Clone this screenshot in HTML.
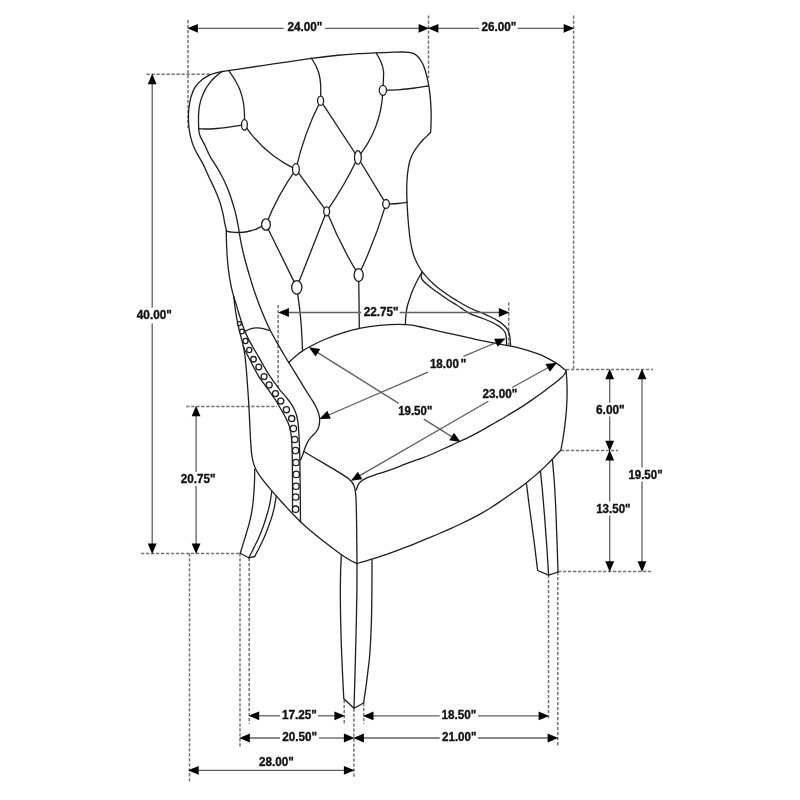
<!DOCTYPE html><html><head><meta charset="utf-8"><style>html,body{margin:0;padding:0;background:#fff;}svg{display:block;}text{font-family:"Liberation Sans",sans-serif;font-weight:bold;font-size:12.2px;fill:#111;stroke:#111;stroke-width:0.35px;}</style></head><body>
<svg width="800" height="800" viewBox="0 0 800 800" style="will-change:transform">
<rect width="800" height="800" fill="#fff"/>
<g stroke="#747474" stroke-width="1.5" stroke-dasharray="3.3 1.7" fill="none">
<path d="M188 20L188 128"/>
<path d="M428.5 15.5L428.5 78"/>
<path d="M573.6 15.5L573.6 369"/>
<path d="M146.5 74.2L212 74.2"/>
<path d="M141 553.4L240.3 553.4"/>
<path d="M186.25 406.4L277 406.4"/>
<path d="M278.1 305L278.1 388"/>
<path d="M508.7 302.5L508.7 345"/>
<path d="M566 369.4L653 369.4"/>
<path d="M561 450.6L618 450.6"/>
<path d="M558 571.4L651 571.4"/>
<path d="M189.5 553.2L189.5 782.5"/>
<path d="M240 553.2L240 747.5"/>
<path d="M249.2 558L249.2 723.8"/>
<path d="M344.2 700L344.2 723.8"/>
<path d="M353.9 708.5L353.9 777.5"/>
<path d="M363.7 703L363.7 723.8"/>
<path d="M548.5 575L548.5 718.5"/>
<path d="M557.8 572L557.8 747"/>
</g>
<g stroke="#1e1e1e" stroke-width="1.3" fill="none" stroke-linejoin="round" stroke-linecap="round">
<path d="M226.5 230.5 C226.21 229.3 225.31 226.02 224.74 223.31 C224.18 220.6 223.89 217.67 223.11 214.23 C222.34 210.79 221.46 206.82 220.07 202.66 C218.68 198.5 216.6 193.53 214.76 189.28 C212.91 185.04 210.61 180.7 209 177.19 C207.38 173.67 206.29 170.86 205.06 168.22 C203.83 165.57 202.88 163.64 201.62 161.33 C200.36 159.02 198.86 156.84 197.51 154.33 C196.16 151.82 194.64 149.1 193.5 146.26 C192.37 143.43 191.44 140.41 190.7 137.34 C189.95 134.28 189.4 131.09 189.02 127.86 C188.64 124.63 188.42 121.33 188.42 117.94 C188.41 114.56 188.53 111.1 188.97 107.54 C189.41 103.98 190.02 100.01 191.07 96.58 C192.12 93.15 193.44 89.77 195.26 86.94 C197.08 84.12 199.61 81.61 201.98 79.63 C204.34 77.65 207.11 76.2 209.45 75.05 C211.8 73.91 213.76 73.39 216.07 72.76 C218.39 72.14 219.57 71.93 223.35 71.3 C227.13 70.68 230.39 70.25 238.75 69.02 C247.1 67.79 261.63 65.65 273.47 63.92 C285.31 62.2 299.05 60.12 309.8 58.68 C320.56 57.23 329.99 56.1 338.01 55.27 C346.03 54.44 351.72 54.12 357.92 53.72 C364.12 53.32 369.75 53.13 375.21 52.89 C380.68 52.65 386.2 52.43 390.7 52.28 C395.2 52.13 399.16 51.98 402.22 51.98 C405.27 51.98 407.14 52.03 409.01 52.27 C410.89 52.51 412.15 52.86 413.46 53.43 C414.78 53.99 415.83 54.73 416.9 55.66 C417.98 56.59 418.95 57.71 419.89 59.02 C420.83 60.33 421.68 61.65 422.56 63.52 C423.43 65.4 424.27 67.33 425.16 70.27 C426.06 73.21 427.1 76.89 427.93 81.16 C428.76 85.43 429.62 90.75 430.15 95.89 C430.68 101.04 430.97 107.3 431.11 112.05 C431.25 116.8 431.08 120.98 430.99 124.39 C430.91 127.8 430.67 131.15 430.6 132.5 C430.16 132.93 429.11 133.93 427.93 135.07 C426.75 136.2 425.14 137.61 423.53 139.32 C421.92 141.03 419.93 143.18 418.27 145.34 C416.61 147.5 414.89 149.96 413.58 152.28 C412.26 154.6 411.25 156.67 410.38 159.26 C409.5 161.85 408.91 164.28 408.34 167.82 C407.78 171.36 407.23 175.77 406.98 180.53 C406.72 185.28 406.68 190.52 406.82 196.37 C406.95 202.21 407.33 209.19 407.78 215.58 C408.23 221.98 408.9 229.45 409.52 234.71 C410.15 239.97 410.82 243.7 411.52 247.15 C412.23 250.61 412.92 252.99 413.75 255.44 C414.59 257.9 415.57 259.9 416.51 261.91 C417.46 263.92 418.42 265.77 419.43 267.49 C420.44 269.21 421.28 270.53 422.56 272.21 C423.85 273.9 425.26 275.61 427.14 277.61 C429.02 279.6 431.47 282.05 433.83 284.15 C436.18 286.26 438.76 288.36 441.25 290.26 C443.74 292.16 446.25 293.88 448.75 295.54 C451.25 297.2 453.78 298.72 456.22 300.21 C458.67 301.7 461.14 303.17 463.43 304.47 C465.71 305.76 467.78 306.92 469.94 307.98 C472.1 309.04 474.11 309.89 476.38 310.83 C478.64 311.77 481.11 312.58 483.53 313.61 C485.96 314.64 488.58 315.85 490.92 317.02 C493.25 318.19 495.67 319.52 497.54 320.64 C499.41 321.76 500.79 322.68 502.14 323.73 C503.49 324.78 504.65 325.79 505.65 326.96 C506.66 328.12 507.5 329.36 508.15 330.73 C508.8 332.09 509.22 333.58 509.56 335.16 C509.91 336.74 510.05 338.44 510.21 340.22 C510.36 341.99 510.45 344.87 510.5 345.8"/>
<path d="M222.5 71.3 C221.65 71.91 218.96 73.65 217.38 74.93 C215.81 76.21 214.42 77.52 213.04 78.97 C211.67 80.42 210.37 81.96 209.14 83.62 C207.91 85.27 206.72 86.99 205.66 88.88 C204.59 90.78 203.58 92.9 202.72 94.98 C201.87 97.06 201.11 99.2 200.52 101.38 C199.92 103.56 199.47 105.8 199.15 108.07 C198.83 110.35 198.68 112.7 198.57 115 C198.47 117.3 198.5 119.7 198.52 121.88 C198.54 124.06 198.58 126.28 198.69 128.09 C198.8 129.9 198.92 131.35 199.18 132.75 C199.45 134.14 199.78 135.2 200.29 136.46 C200.81 137.72 201.49 138.79 202.28 140.31 C203.06 141.82 204.07 143.62 205.01 145.57 C205.94 147.52 206.88 149.92 207.89 152.01 C208.89 154.1 209.74 155.95 211.02 158.13 C212.3 160.32 213.97 162.52 215.57 165.12 C217.17 167.71 218.97 170.64 220.62 173.71 C222.27 176.77 223.85 179.84 225.46 183.51 C227.07 187.18 228.69 191.04 230.3 195.73 C231.91 200.43 233.81 206.5 235.15 211.67 C236.48 216.83 237.43 222.12 238.31 226.72 C239.18 231.33 239.69 235.41 240.41 239.31 C241.14 243.21 241.77 246.34 242.64 250.12 C243.52 253.91 244.41 257.4 245.64 262 C246.88 266.59 248.47 272.33 250.08 277.67 C251.69 283.01 253.38 288.49 255.31 294.06 C257.24 299.62 259.24 305.15 261.66 311.07 C264.08 316.98 267.02 323.82 269.84 329.54 C272.65 335.26 276.1 341 278.58 345.42 C281.06 349.83 282.79 352.8 284.73 356.02 C286.67 359.25 288.07 361.31 290.21 364.75 C292.34 368.2 295.21 372.9 297.53 376.7 C299.85 380.5 302.25 384.47 304.15 387.54 C306.05 390.61 307.39 392.73 308.91 395.13 C310.43 397.52 311.93 399.71 313.24 401.94 C314.56 404.16 315.86 406.39 316.81 408.5 C317.76 410.6 318.48 412.54 318.95 414.54 C319.42 416.54 319.62 418.54 319.63 420.48 C319.63 422.41 319.41 424.42 318.96 426.13 C318.52 427.85 317.79 429.41 316.96 430.75 C316.13 432.1 315.03 433.08 314 434.2 C312.97 435.31 311.85 436.14 310.78 437.46 C309.71 438.78 308.59 440.23 307.58 442.11 C306.56 443.99 305.55 446.55 304.71 448.73 C303.87 450.92 303.21 453.4 302.53 455.24 C301.84 457.09 300.92 459.04 300.6 459.8"/>
<path d="M303.9 451.5 C306.67 453.15 315.02 458.15 320.53 461.41 C326.04 464.68 332.28 468.2 336.96 471.11 C341.63 474.01 345.77 476.49 348.58 478.83 C351.4 481.17 352.62 482.19 353.84 485.14 C355.05 488.1 355.42 490.09 355.88 496.56 C356.34 503.04 356.41 512.84 356.59 523.99 C356.78 535.15 356.93 556.92 357 563.5"/>
<path d="M356.3 490 C356.56 489.23 357.1 486.8 357.86 485.37 C358.63 483.94 359.41 482.68 360.89 481.42 C362.38 480.16 364.5 478.89 366.77 477.82 C369.03 476.75 371.75 475.93 374.47 475.02 C377.18 474.11 379.92 473.38 383.04 472.35 C386.16 471.32 389.51 470.21 393.18 468.86 C396.85 467.51 401.01 465.77 405.06 464.23 C409.1 462.69 413.38 461.11 417.43 459.62 C421.48 458.12 425.42 456.87 429.36 455.26 C433.3 453.66 436.69 451.98 441.07 449.99 C445.45 447.99 450.75 445.56 455.65 443.28 C460.55 441 465.96 438.57 470.49 436.3 C475.03 434.04 478.76 431.97 482.86 429.7 C486.95 427.43 490.94 425.07 495.04 422.7 C499.15 420.32 503.34 417.93 507.5 415.47 C511.66 413 515.85 410.56 520 407.92 C524.15 405.27 528.43 402.34 532.4 399.6 C536.36 396.86 540.49 393.91 543.8 391.5 C547.1 389.08 549.86 386.94 552.23 385.1 C554.6 383.26 556.39 381.79 558.03 380.44 C559.67 379.1 560.95 378.11 562.05 377.04 C563.16 375.96 563.94 375.01 564.63 374 C565.33 372.99 565.94 371.5 566.2 371"/>
<path d="M288.75 362.5 C289.93 361.42 293.47 358 295.83 356.03 C298.19 354.05 300.21 352.42 302.91 350.66 C305.6 348.9 308.17 347.41 311.99 345.47 C315.81 343.53 320.7 341.12 325.81 339.02 C330.91 336.93 336.81 334.71 342.61 332.9 C348.42 331.1 354.43 329.44 360.64 328.19 C366.85 326.95 373.65 326.06 379.89 325.42 C386.12 324.78 392.69 324.38 398.06 324.34 C403.43 324.31 407.64 324.6 412.12 325.19 C416.61 325.78 420.36 326.88 424.97 327.9 C429.58 328.93 434.8 330.2 439.79 331.34 C444.79 332.48 449.98 333.64 454.93 334.74 C459.88 335.84 464.83 336.92 469.49 337.93 C474.15 338.95 478.59 339.96 482.87 340.84 C487.14 341.73 491.15 342.49 495.12 343.24 C499.08 343.98 502.12 344.36 506.66 345.29 C511.21 346.22 516.52 347.13 522.4 348.8 C528.28 350.47 536.32 352.94 541.95 355.33 C547.58 357.72 552.19 360.61 556.2 363.14 C560.21 365.67 564.37 369.27 566 370.5 C566.14 372.21 566.64 376.94 566.82 380.77 C567.01 384.61 567.16 388.75 567.1 393.52 C567.04 398.28 566.83 404.15 566.47 409.37 C566.1 414.59 565.5 419.92 564.92 424.83 C564.33 429.73 563.63 434.55 562.94 438.79 C562.26 443.03 561.16 448.34 560.8 450.25 C560.03 451.05 557.71 453.39 556.16 455.02 C554.61 456.66 553.2 458.27 551.51 460.03 C549.81 461.79 547.85 463.76 545.98 465.6 C544.1 467.43 542.07 469.38 540.27 471.04 C538.46 472.69 536.79 474.09 535.14 475.52 C533.49 476.95 532.02 478.23 530.37 479.6 C528.73 480.98 527.18 482.32 525.26 483.79 C523.34 485.26 521.4 486.58 518.84 488.41 C516.28 490.24 513.04 492.55 509.9 494.76 C506.76 496.97 503.32 499.41 500 501.66 C496.68 503.91 493.33 506.16 490 508.24 C486.67 510.31 483.33 512.26 480 514.12 C476.67 515.97 473.33 517.69 470 519.38 C466.67 521.07 463.34 522.67 460 524.26 C456.66 525.85 453.38 527.37 449.94 528.91 C446.5 530.45 443.11 531.91 439.36 533.5 C435.61 535.09 431.5 536.79 427.44 538.47 C423.39 540.14 419.12 541.94 415.05 543.56 C410.97 545.19 406.84 546.77 403.02 548.23 C399.21 549.69 395.68 551.05 392.16 552.33 C388.64 553.62 385.29 554.82 381.91 555.96 C378.52 557.11 374.97 558.26 371.84 559.22 C368.72 560.18 365.64 561.01 363.17 561.72 C360.7 562.44 358.03 563.2 357 563.5"/>
<path d="M233.8 297 C234.01 298.82 234.63 304.69 235.07 307.95 C235.51 311.2 236 313.94 236.45 316.53 C236.9 319.11 237.34 321.24 237.78 323.44 C238.22 325.64 238.63 327.75 239.1 329.73 C239.56 331.72 240.08 333.56 240.56 335.36 C241.03 337.17 241.53 338.88 241.96 340.57 C242.39 342.26 242.81 344.01 243.14 345.5 C243.48 347 243.71 348.12 243.97 349.53 C244.22 350.94 244.42 352.06 244.68 353.96 C244.94 355.86 245.23 358.07 245.53 360.93 C245.83 363.79 246.15 367.13 246.47 371.11 C246.79 375.09 247.1 379.72 247.46 384.82 C247.82 389.91 248.28 395.76 248.64 401.68 C249 407.6 249.29 414 249.61 420.35 C249.93 426.7 250.14 433.64 250.56 439.79 C250.97 445.93 251.23 452.37 252.09 457.25 C252.94 462.12 253.97 465.38 255.67 469.02 C257.36 472.67 259.64 475.6 262.26 479.14 C264.89 482.69 268.4 486.74 271.42 490.3 C274.44 493.85 277.75 497.54 280.36 500.47 C282.98 503.4 284.91 505.52 287.11 507.9 C289.3 510.28 291.26 512.42 293.54 514.76 C295.83 517.09 298.2 519.48 300.79 521.92 C303.38 524.36 305.98 526.73 309.09 529.41 C312.2 532.08 315.9 535.1 319.45 537.95 C323.01 540.8 326.88 543.8 330.42 546.51 C333.96 549.21 337.53 552 340.69 554.19 C343.85 556.39 346.67 558.12 349.39 559.69 C352.11 561.26 355.73 562.95 357 563.6"/>
<path d="M226.25 231 C227.24 231.2 229.94 231.97 232.17 232.22 C234.4 232.47 237.19 232.57 239.63 232.49 C242.06 232.41 244.56 232.12 246.79 231.75 C249.01 231.37 251.13 230.81 252.97 230.24 C254.81 229.67 256.32 229.03 257.83 228.32 C259.33 227.61 261.3 226.39 262 226"/>
<path d="M226.25 231 C226.29 232.58 226.36 236.89 226.47 240.48 C226.58 244.07 226.59 247.69 226.91 252.53 C227.23 257.37 227.73 263.99 228.41 269.51 C229.09 275.03 230.08 281.08 230.98 285.66 C231.88 290.24 233.33 295.11 233.8 297"/>
<path d="M243.3 346 C243.47 346.56 243.87 348.23 244.34 349.36 C244.82 350.49 245.46 351.47 246.16 352.78 C246.86 354.09 247.68 355.58 248.53 357.22 C249.38 358.85 250.25 360.64 251.25 362.57 C252.26 364.51 253.38 366.66 254.54 368.83 C255.7 370.99 256.92 373.44 258.23 375.56 C259.54 377.68 260.99 379.56 262.41 381.55 C263.83 383.54 265.31 385.51 266.75 387.52 C268.19 389.53 269.68 391.59 271.08 393.59 C272.47 395.59 273.87 397.57 275.12 399.52 C276.38 401.47 277.4 403.26 278.61 405.3 C279.81 407.34 281.14 409.65 282.33 411.75 C283.52 413.85 284.73 415.92 285.74 417.89 C286.74 419.86 287.62 421.64 288.36 423.59 C289.1 425.55 289.7 427.53 290.19 429.62 C290.68 431.71 291.02 433.74 291.31 436.14 C291.59 438.55 291.72 440.82 291.88 444.03 C292.04 447.24 292.15 451 292.24 455.42 C292.34 459.84 292.4 464.58 292.44 470.55 C292.49 476.53 292.49 484.43 292.5 491.25 C292.5 498.08 292.5 508.13 292.5 511.5"/>
<path d="M233.8 297 C234.21 298.25 235.43 301.85 236.23 304.48 C237.03 307.1 237.77 309.95 238.61 312.73 C239.46 315.51 240.34 318.25 241.3 321.14 C242.27 324.03 243.38 327.34 244.43 330.05 C245.48 332.75 246.53 335.11 247.61 337.38 C248.69 339.64 249.81 341.67 250.9 343.64 C251.98 345.61 253.02 347.33 254.12 349.22 C255.22 351.12 256.38 353.08 257.5 355.01 C258.62 356.95 259.8 358.98 260.85 360.83 C261.89 362.67 262.81 364.38 263.78 366.08 C264.76 367.78 265.5 369.13 266.7 371.04 C267.89 372.94 269.52 375.41 270.95 377.52 C272.38 379.62 273.91 381.78 275.26 383.66 C276.61 385.54 277.78 387.17 279.04 388.78 C280.31 390.4 281.52 391.78 282.84 393.35 C284.15 394.91 285.57 396.46 286.93 398.16 C288.29 399.85 289.77 401.64 291.01 403.52 C292.25 405.4 293.43 407.4 294.37 409.44 C295.31 411.48 296.04 413.52 296.65 415.74 C297.25 417.96 297.67 420.15 298.02 422.76 C298.37 425.37 298.54 427.83 298.77 431.42 C299 435.01 299.19 439.02 299.38 444.29 C299.57 449.56 299.77 455.6 299.91 463.04 C300.05 470.48 300.14 479.12 300.24 488.95 C300.34 498.78 300.46 516.49 300.5 522"/>
<path d="M245.4 331 C246.25 330.65 248.62 329.4 250.5 328.87 C252.37 328.35 254.53 327.91 256.64 327.86 C258.76 327.8 261.09 328.07 263.19 328.53 C265.29 328.98 268.24 330.25 269.25 330.6"/>
<path d="M254.7 469.2 C254.69 470.66 254.69 474.91 254.61 477.98 C254.53 481.05 254.44 483.98 254.23 487.61 C254.01 491.24 253.73 495.71 253.31 499.76 C252.89 503.81 252.38 508.12 251.73 511.93 C251.08 515.75 250.26 519.23 249.41 522.65 C248.57 526.07 247.63 529.13 246.64 532.46 C245.66 535.79 244.56 539.17 243.5 542.63 C242.43 546.08 240.79 551.44 240.25 553.2 L248.8 557.8 L254.7 556.5"/>
<path d="M248.8 557.8 C249.6 556.23 251.98 551.59 253.59 548.36 C255.19 545.14 256.89 541.89 258.41 538.47 C259.93 535.04 261.43 531.37 262.73 527.83 C264.03 524.3 265.21 520.46 266.2 517.25 C267.19 514.04 268 511.31 268.7 508.58 C269.39 505.86 269.85 503.75 270.36 500.91 C270.87 498.06 271.52 493.07 271.75 491.5"/>
<path d="M254.7 556.5 C255.44 555.09 257.63 551.04 259.13 548.03 C260.64 545.03 262.25 541.78 263.7 538.47 C265.16 535.16 266.59 531.5 267.86 528.16 C269.13 524.82 270.37 521.4 271.33 518.42 C272.3 515.45 273.03 512.85 273.65 510.31 C274.27 507.77 274.61 505.56 275.05 503.17 C275.49 500.79 276.09 497.2 276.3 496"/>
<path d="M341.3 555.3 C341.17 558.53 340.7 568.05 340.54 574.66 C340.38 581.27 340.32 587.45 340.33 594.96 C340.35 602.47 340.46 611.31 340.63 619.71 C340.8 628.11 341.05 636.79 341.35 645.35 C341.65 653.91 342.01 662.18 342.42 671.08 C342.83 679.98 343.57 694.14 343.8 698.75 L354 708.3 L363.6 703 C364.04 699.97 365.48 690.57 366.25 684.83 C367.02 679.09 367.69 673.09 368.22 668.57 C368.76 664.05 369.1 662.03 369.48 657.69 C369.87 653.34 370.2 648.91 370.53 642.49 C370.86 636.07 371.24 627.71 371.47 619.14 C371.7 610.57 371.81 601 371.9 591.08 C371.99 581.16 371.98 564.85 372 559.6"/>
<path d="M357 563.5 C356.99 567.88 357.02 580.48 356.91 589.8 C356.81 599.13 356.63 607.6 356.37 619.47 C356.11 631.34 355.76 646.22 355.36 661.03 C354.97 675.83 354.23 700.42 354 708.3"/>
<path d="M526.5 484 C526.94 487.47 528.21 497.86 529.13 504.81 C530.04 511.77 531.04 518.54 532 525.73 C532.96 532.92 533.97 540.48 534.9 547.94 C535.83 555.4 537.15 566.74 537.6 570.5 L548.6 575.2 L558 572"/>
<path d="M540.5 471.5 C540.83 474.86 541.83 484.34 542.5 491.66 C543.17 498.97 543.83 506.89 544.5 515.38 C545.17 523.87 545.84 532.63 546.53 542.6 C547.21 552.57 548.25 569.77 548.6 575.2"/>
<path d="M552.5 460.5 C552.81 464.2 553.8 474.38 554.36 482.68 C554.92 490.97 555.42 500.64 555.86 510.28 C556.3 519.92 556.63 530.22 556.99 540.51 C557.35 550.8 557.83 566.75 558 572"/>
<path d="M244.45 124.85Q263.9 154.34 295.9 169.3"/>
<path d="M320.6 100.7Q303.92 133.44 295.9 169.3"/>
<path d="M320.6 100.7Q339.25 129.1 357.9 157.5"/>
<path d="M382.9 90.3Q381.65 128.08 357.9 157.5"/>
<path d="M295.9 169.3Q311.27 190.32 326.65 211.35"/>
<path d="M295.9 169.3Q277.58 195.09 265.95 224.5"/>
<path d="M357.9 157.5Q344.52 185.73 326.65 211.35"/>
<path d="M357.9 157.5Q371.98 180.7 386.05 203.9"/>
<path d="M265.95 224.5Q281.38 255.93 296.8 287.35"/>
<path d="M326.65 211.35Q311.73 249.35 296.8 287.35"/>
<path d="M326.65 211.35Q339.97 244.55 358.65 275.05"/>
<path d="M386.05 203.9Q375.15 240.55 358.65 275.05"/>
<path d="M228.75 70.5 C229.79 72.08 233.12 76.75 235 80 C236.88 83.25 238.62 86.33 240 90 C241.38 93.67 242.57 98.25 243.3 102 C244.03 105.75 244.21 108.69 244.4 112.5 C244.59 116.31 244.44 122.79 244.45 124.85"/>
<path d="M311.25 58 C312.04 59.33 314.66 63.17 316 66 C317.34 68.83 318.52 71.67 319.3 75 C320.08 78.33 320.48 81.72 320.7 86 C320.92 90.28 320.62 98.25 320.6 100.7"/>
<path d="M376.25 53 C377.04 54.5 379.79 59 381 62 C382.21 65 383.1 68.17 383.5 71 C383.9 73.83 383.5 75.78 383.4 79 C383.3 82.22 382.98 88.42 382.9 90.3"/>
<path d="M198.7 128.7 C200.58 128.75 206.45 129.08 210 129 C213.55 128.92 216.33 128.6 220 128.2 C223.67 127.8 227.93 127.16 232 126.6 C236.07 126.04 242.38 125.14 244.45 124.85"/>
<path d="M386.1 203.9 C388.08 203.83 394.48 203.75 398 203.5 C401.52 203.25 405.67 202.58 407.2 202.4"/>
<path d="M382.9 90.3 C385.75 90.18 394.65 89.98 400 89.6 C405.35 89.22 410.33 88.6 415 88 C419.67 87.4 425.83 86.33 428 86"/>
<path d="M296.8 287.35 C297.3 291.12 299.07 303.73 299.8 310 C300.53 316.27 300.83 320.33 301.2 325 C301.57 329.67 301.78 333.78 302 338 C302.22 342.22 302.42 348.25 302.5 350.3"/>
<path d="M358.65 275.05 C358.71 279.21 358.89 291.23 359 300 C359.11 308.77 359.25 323.08 359.3 327.7"/>
<path d="M422.1 271.9 C421.54 272.88 419.93 275.52 418.75 277.75 C417.57 279.98 416.12 282.88 415 285.25 C413.88 287.62 412.88 289.79 412 292 C411.12 294.21 410.5 296.25 409.75 298.5 C409 300.75 408.09 303.17 407.5 305.5 C406.91 307.83 406.52 310.33 406.2 312.5 C405.88 314.67 405.73 316.53 405.6 318.5 C405.47 320.47 405.43 323.33 405.4 324.3"/>
<path d="M422.1 272.5 C421.98 272.88 421.52 273.88 421.4 274.75 C421.28 275.62 421.22 276.88 421.4 277.75 C421.58 278.62 421.69 279 422.5 280 C423.31 281 424.38 282.12 426.25 283.75 C428.12 285.38 431.25 287.88 433.75 289.75 C436.25 291.62 438.75 293.25 441.25 295 C443.75 296.75 446.25 298.62 448.75 300.25 C451.25 301.88 453.75 303.16 456.25 304.75 C458.75 306.34 461.46 308.32 463.75 309.8 C466.04 311.28 467.96 312.55 470 313.6 C472.04 314.65 473.75 315.24 476 316.1 C478.25 316.96 481 317.81 483.5 318.75 C486 319.69 488.5 320.56 491 321.75 C493.5 322.94 496.62 324.71 498.5 325.9 C500.38 327.09 501.15 327.8 502.25 328.9 C503.35 330 504.43 331.15 505.1 332.5 C505.78 333.85 506.05 334.87 506.3 337 C506.55 339.13 506.55 343.92 506.6 345.3"/>
</g>
<g stroke="#1e1e1e" stroke-width="1.3" fill="#fff">
<ellipse cx="244.45" cy="124.85" rx="2.9" ry="5.3"/>
<ellipse cx="320.6" cy="100.7" rx="3" ry="4.6"/>
<ellipse cx="382.9" cy="90.3" rx="3.6" ry="5"/>
<ellipse cx="295.9" cy="169.3" rx="3.4" ry="5.7"/>
<ellipse cx="357.9" cy="157.5" rx="3.4" ry="6.8"/>
<ellipse cx="265.95" cy="224.5" rx="4.4" ry="5.65"/>
<ellipse cx="326.65" cy="211.35" rx="2.95" ry="4.5"/>
<ellipse cx="386.05" cy="203.9" rx="3.35" ry="4.4"/>
<ellipse cx="296.8" cy="287.35" rx="5.1" ry="6.75"/>
<ellipse cx="358.65" cy="275.05" rx="4.55" ry="6.45"/>
<circle cx="239.4" cy="323.6" r="1.95"/>
<circle cx="242" cy="331.5" r="2.35"/>
<circle cx="245.5" cy="341" r="2.55"/>
<circle cx="249.25" cy="350" r="2.6"/>
<circle cx="253.5" cy="359.25" r="2.75"/>
<circle cx="258.75" cy="367" r="2.85"/>
<circle cx="264.1" cy="376.6" r="2.95"/>
<circle cx="269.2" cy="384.9" r="3"/>
<circle cx="275.5" cy="393.6" r="3.05"/>
<circle cx="280.75" cy="401.1" r="3.05"/>
<circle cx="286.4" cy="409.8" r="3.1"/>
<circle cx="291.7" cy="418.6" r="3.1"/>
<circle cx="293.4" cy="428.6" r="3.15"/>
<circle cx="294.75" cy="439.5" r="3.15"/>
<circle cx="295.6" cy="450.6" r="3.2"/>
<circle cx="296" cy="462.5" r="3.2"/>
<circle cx="296.25" cy="474.4" r="3.2"/>
<circle cx="296" cy="486.25" r="3.2"/>
<circle cx="295.7" cy="497" r="3.2"/>
<circle cx="295.6" cy="509.2" r="3.2"/>
</g>
<g stroke="#606060" stroke-width="1.3" fill="none">
<path d="M193 28.3L283.75 28.3"/>
<path d="M325 28.3L423.5 28.3"/>
<path d="M433.5 28.3L479 28.3"/>
<path d="M517.6 28.3L568.6 28.3"/>
<path d="M152.2 79.4L152.2 307.8"/>
<path d="M152.2 323.4L152.2 548.4"/>
<path d="M196.1 411.4L196.1 471.9"/>
<path d="M196.1 485.9L196.1 548.4"/>
<path d="M284 312.5L361.25 312.5"/>
<path d="M399.7 312.5L503.7 312.5"/>
<path d="M324.59 416.77L427.9 372.1"/>
<path d="M463.4 356.4L500.41 340.73"/>
<path d="M313.74 350.15L398.75 403.4"/>
<path d="M423.75 419.1L455.76 439.1"/>
<path d="M355.84 477.91L488.4 401.25"/>
<path d="M512.2 387.5L551.96 365.49"/>
<path d="M609.7 374.4L609.7 402.8"/>
<path d="M609.7 416.6L609.7 445.6"/>
<path d="M609.7 455.6L609.7 501.5"/>
<path d="M609.7 515.5L609.7 566.2"/>
<path d="M642 374.4L642 467.5"/>
<path d="M642 481.5L642 566.2"/>
<path d="M254.3 715.8L280 715.8"/>
<path d="M318 715.8L339.3 715.8"/>
<path d="M368.6 715.9L439.75 715.9"/>
<path d="M478 715.9L543.5 715.9"/>
<path d="M245 738L280 738"/>
<path d="M319 738L348.8 738"/>
<path d="M359 738L439.75 738"/>
<path d="M478 738L552.5 738"/>
<path d="M193.8 770.3L348.8 770.3"/>
</g>
<g fill="#000">
<path d="M187.3 28.3L197.9 23.9L197.9 32.7Z"/>
<path d="M429.2 28.3L418.6 32.7L418.6 23.9Z"/>
<path d="M427.8 28.3L438.4 23.9L438.4 32.7Z"/>
<path d="M574.3 28.3L563.7 32.7L563.7 23.9Z"/>
<path d="M152.2 73.7L156.6 84.3L147.8 84.3Z"/>
<path d="M152.2 554.1L147.8 543.5L156.6 543.5Z"/>
<path d="M196.1 405.7L200.5 416.3L191.7 416.3Z"/>
<path d="M196.1 554.1L191.7 543.5L200.5 543.5Z"/>
<path d="M278.3 312.5L288.9 308.1L288.9 316.9Z"/>
<path d="M509.4 312.5L498.8 316.9L498.8 308.1Z"/>
<path d="M319.36 419.03L327.34 410.78L330.83 418.86Z"/>
<path d="M505.64 338.47L497.66 346.72L494.17 338.64Z"/>
<path d="M308.91 347.13L320.23 349.03L315.56 356.48Z"/>
<path d="M460.59 442.12L449.27 440.22L453.94 432.77Z"/>
<path d="M350.89 480.75L357.9 471.66L362.28 479.29Z"/>
<path d="M556.91 362.65L549.9 371.74L545.52 364.11Z"/>
<path d="M609.7 368.7L614.1 379.3L605.3 379.3Z"/>
<path d="M609.7 451.3L605.3 440.7L614.1 440.7Z"/>
<path d="M609.7 449.9L614.1 460.5L605.3 460.5Z"/>
<path d="M609.7 571.9L605.3 561.3L614.1 561.3Z"/>
<path d="M642 368.7L646.4 379.3L637.6 379.3Z"/>
<path d="M642 571.9L637.6 561.3L646.4 561.3Z"/>
<path d="M248.6 715.8L259.2 711.4L259.2 720.2Z"/>
<path d="M345 715.8L334.4 720.2L334.4 711.4Z"/>
<path d="M362.9 715.9L373.5 711.5L373.5 720.3Z"/>
<path d="M549.2 715.9L538.6 720.3L538.6 711.5Z"/>
<path d="M239.3 738L249.9 733.6L249.9 742.4Z"/>
<path d="M354.5 738L343.9 742.4L343.9 733.6Z"/>
<path d="M353.3 738L363.9 733.6L363.9 742.4Z"/>
<path d="M558.2 738L547.6 742.4L547.6 733.6Z"/>
<path d="M188.1 770.3L198.7 765.9L198.7 774.7Z"/>
<path d="M354.5 770.3L343.9 774.7L343.9 765.9Z"/>
</g>
<text x="460.45" y="368.4">&quot;</text>
<text x="287.4" y="31.1" textLength="34.95" lengthAdjust="spacingAndGlyphs">24.00&quot;</text>
<text x="481.4" y="30.9" textLength="34.95" lengthAdjust="spacingAndGlyphs">26.00&quot;</text>
<text x="136.8" y="318.75" textLength="35.05" lengthAdjust="spacingAndGlyphs">40.00&quot;</text>
<text x="180.65" y="483.25" textLength="34.95" lengthAdjust="spacingAndGlyphs">20.75&quot;</text>
<text x="363.65" y="316.25" textLength="35.05" lengthAdjust="spacingAndGlyphs">22.75&quot;</text>
<text x="429.9" y="368.4" textLength="28.95" lengthAdjust="spacingAndGlyphs">18.00</text>
<text x="398.15" y="415.1" textLength="34.2" lengthAdjust="spacingAndGlyphs">19.50&quot;</text>
<text x="482.5" y="398.4" textLength="34.85" lengthAdjust="spacingAndGlyphs">23.00&quot;</text>
<text x="596" y="413.75" textLength="28.7" lengthAdjust="spacingAndGlyphs">6.00&quot;</text>
<text x="596.2" y="512.7" textLength="34.4" lengthAdjust="spacingAndGlyphs">13.50&quot;</text>
<text x="628.4" y="478.5" textLength="34.2" lengthAdjust="spacingAndGlyphs">19.50&quot;</text>
<text x="281.9" y="719" textLength="34.9" lengthAdjust="spacingAndGlyphs">17.25&quot;</text>
<text x="441.6" y="718.9" textLength="34.75" lengthAdjust="spacingAndGlyphs">18.50&quot;</text>
<text x="282.2" y="741" textLength="34.9" lengthAdjust="spacingAndGlyphs">20.50&quot;</text>
<text x="442" y="741.4" textLength="34.5" lengthAdjust="spacingAndGlyphs">21.00&quot;</text>
<text x="258.9" y="766.2" textLength="34.9" lengthAdjust="spacingAndGlyphs">28.00&quot;</text>
</svg></body></html>
